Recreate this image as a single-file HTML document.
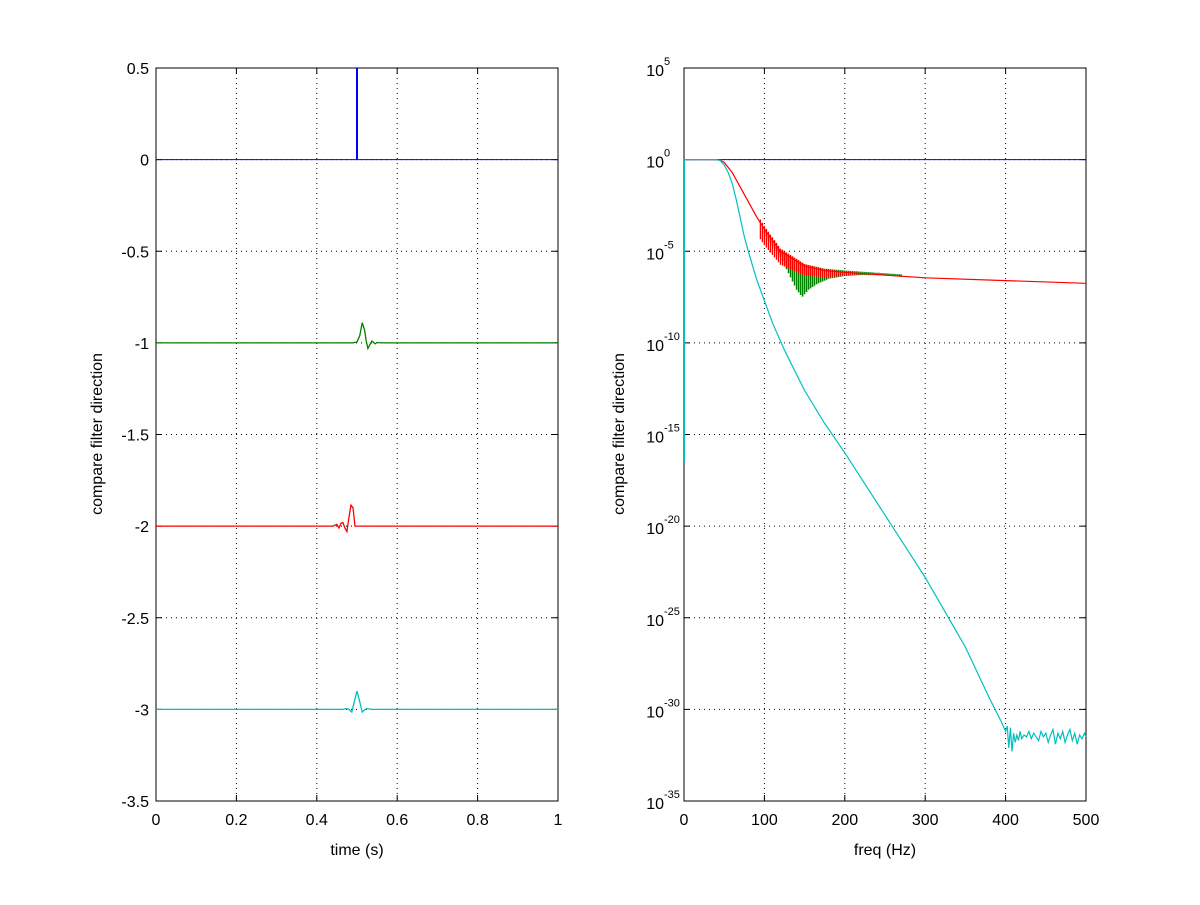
<!DOCTYPE html>
<html><head><meta charset="utf-8"><style>
body{margin:0;background:#fff}
svg text{font-family:"Liberation Sans",sans-serif;font-size:16px;fill:#000}
</style></head><body>
<svg id="c" width="1200" height="900" xmlns="http://www.w3.org/2000/svg"></svg>
<script>
// Left panel data
const lxTicks=[0,0.2,0.4,0.6,0.8,1];
const lxLabels=["0","0.2","0.4","0.6","0.8","1"];
const lyTicks=[0.5,0,-0.5,-1,-1.5,-2,-2.5,-3,-3.5];
const lyLabels=["0.5","0","-0.5","-1","-1.5","-2","-2.5","-3","-3.5"];
const greenT=[0,0.49,0.5,0.507,0.513,0.519,0.523,0.527,0.532,0.537,0.545,0.55,0.56,1];
const greenV=[-1,-1,-0.995,-0.96,-0.89,-0.93,-0.99,-1.03,-1.01,-0.99,-1.005,-0.998,-1,-1];
const redT=[0,0.44,0.45,0.455,0.46,0.465,0.47,0.475,0.48,0.485,0.49,0.495,0.5,1];
const redV=[-2,-2,-1.99,-2.01,-1.985,-1.98,-2.01,-2.03,-1.95,-1.885,-1.9,-2,-2,-2];
const cyanT=[0,0.465,0.475,0.48,0.487,0.493,0.5,0.507,0.513,0.52,0.525,0.535,1];
const cyanV=[-3,-3,-2.995,-3,-3.015,-2.96,-2.9,-2.96,-3.015,-3,-2.995,-3,-3];
// Right panel data
const rxTicks=[0,100,200,300,400,500];
const rxLabels=["0","100","200","300","400","500"];
const ryTicks=[5,0,-5,-10,-15,-20,-25,-30,-35];
const redF=[0,40,45,50,60,75,90,100,120,150,175,200,250,300,400,500];
const redL=[0,0,-0.03,-0.15,-0.7,-1.9,-3.1,-3.8,-5.0,-5.8,-6.05,-6.15,-6.3,-6.45,-6.6,-6.75];
const greenF=[100,110,120,130,140,147,155,165,180,200,220,240,260,270];
const greenDip=[-4.0,-4.7,-5.3,-6.2,-7.1,-7.5,-7.1,-6.8,-6.5,-6.35,-6.3,-6.3,-6.35,-6.4];
const cyanF=[0,40,45,50,55,60,65,70,75,80,90,100,110,125,150,175,200,250,300,350,380,395,400];
const cyanL=[0,0,-0.05,-0.3,-0.7,-1.3,-2.2,-3.2,-4.2,-5.0,-6.5,-7.7,-8.9,-10.4,-12.6,-14.4,-16.0,-19.4,-22.8,-26.6,-29.4,-30.7,-31.2];
const noiseF=[402,404,406,408,410,412,414,416,418,420,423,426,429,432,435,438,441,444,447,450,453,456,459,462,465,468,471,474,477,480,483,486,489,492,495,498,500];
const noiseL=[-30.9,-32.1,-31.0,-32.3,-31.3,-31.8,-31.4,-31.7,-31.2,-31.6,-31.4,-31.5,-31.2,-31.6,-31.3,-31.5,-31.7,-31.2,-31.5,-31.3,-31.8,-31.4,-31.1,-31.9,-31.3,-31.6,-31.2,-31.8,-31.4,-31.1,-31.7,-31.3,-31.9,-31.4,-31.6,-31.3,-31.5];

const svg=document.getElementById('c');
const NS="http://www.w3.org/2000/svg";
function mk(tag,attrs,parent){const e=document.createElementNS(NS,tag);for(const k in attrs)e.setAttribute(k,attrs[k]);(parent||svg).appendChild(e);return e;}
function interp(xs,ys,x){for(let i=1;i<xs.length;i++){if(x<=xs[i]){const t=(x-xs[i-1])/(xs[i]-xs[i-1]);return ys[i-1]+t*(ys[i]-ys[i-1]);}}return ys[ys.length-1];}

const L={x0:156,x1:558,y0:68,y1:801};
const lx=v=>L.x0+v*(L.x1-L.x0);
const ly=v=>L.y0+(0.5-v)/4*(L.y1-L.y0);
const rx=v=>684+v/500*(1086-684);
const ry=e=>68+(5-e)/40*(801-68);

function axes(name,X0,X1,xTicks,xLab,xf,yTicks,yLab,yf,xTitle,cx){
  const g=mk('g',{});
  
  
  xTicks.forEach((t,i)=>{const x=xf(t);
    if(i>0&&i<xTicks.length-1)mk('line',{x1:x,x2:x,y1:68,y2:801,stroke:'#000','stroke-dasharray':'1 4','stroke-width':1},g);
    mk('line',{x1:x,x2:x,y1:801,y2:795,stroke:'#000'},g);mk('line',{x1:x,x2:x,y1:68,y2:74,stroke:'#000'},g);
    const tx=mk('text',{x:x,y:825,'text-anchor':'middle'},g);tx.textContent=xLab[i];
    });
  yTicks.forEach((t,i)=>{const y=yf(t);
    if(i>0&&i<yTicks.length-1)mk('line',{x1:X0,x2:X1,y1:y,y2:y,stroke:'#000','stroke-dasharray':'1 4'},g);
    mk('line',{x1:X0,x2:X0+6,y1:y,y2:y,stroke:'#000'},g);mk('line',{x1:X1,x2:X1-6,y1:y,y2:y,stroke:'#000'},g);
    let tx;
    if(yLab){tx=mk('text',{x:X0-7,y:y+6,'text-anchor':'end'},g);tx.textContent=yLab[i];}
    else{tx=mk('text',{x:X0-20,y:y+8,'text-anchor':'end'},g);tx.textContent='10';
      const s=mk('text',{x:X0-20,y:y-3},g);s.setAttribute('style','font-size:11px');s.textContent=String(t);}
    });
  mk('rect',{x:X0,y:68,width:X1-X0,height:733,fill:'none',stroke:'#000'},g);
  const xt=mk('text',{x:(X0+X1)/2,y:855,'text-anchor':'middle'},g);xt.textContent=xTitle;
  
  const yt=mk('text',{x:cx,y:434,'text-anchor':'middle',transform:`rotate(-90 ${cx} 434)`},g);yt.textContent='compare filter direction';
  
}
axes('left-axes',156,558,lxTicks,lxLabels,lx,lyTicks,lyLabels,ly,'time (s)',102);
axes('right-axes',684,1086,rxTicks,rxLabels,rx,ryTicks,null,ry,'freq (Hz)',624);

function poly(xs,ys,fx,fy,col,name,w){const p=xs.map((x,i)=>fx(x).toFixed(1)+','+fy(ys[i]).toFixed(1)).join(' ');
  const e=mk('polyline',{points:p,fill:'none',stroke:col,'stroke-width':w||1});
  return e;}
// left series
poly([0,1],[0,0],lx,ly,'#0000ff','impulse-baseline',1);
poly([0.5,0.5],[0,0.5],lx,ly,'#0000ff','impulse-spike',2);
poly(greenT,greenV,lx,ly,'#008000','green-series',1.3);
poly(redT,redV,lx,ly,'#ff0000','red-series',1.3);
poly(cyanT,cyanV,lx,ly,'#00bfbf','cyan-series',1.3);
// right series
poly([0,500],[0,0],rx,ry,'#0000ff','flat-response');
poly([0,0],[0,-16.5],rx,ry,'#00bfbf','dc-line',2);
// green oscillations
(function(){let d='';for(let f=100;f<=270;f+=2.5){const dip=interp(greenF,greenDip,f);const base=interp(redF,redL,f);
  d+=`M${rx(f).toFixed(1)},${ry(base+0.1).toFixed(1)}V${ry(dip).toFixed(1)}`;}
  const e=mk('path',{d:d,stroke:'#008000','stroke-width':1.5,fill:'none'});
  })();
(function(){let d='';for(let f=95;f<=230;f+=2.5){const base=interp(redF,redL,f);const amp=Math.max(0,0.9*(1-(f-95)/135));
  d+=`M${rx(f).toFixed(1)},${ry(base+amp*0.2).toFixed(1)}V${ry(base-amp).toFixed(1)}`;}
  const e=mk('path',{d:d,stroke:'#ff0000','stroke-width':1.3,fill:'none'});
  })();
poly(redF,redL,rx,ry,'#ff0000','red-response',1.2);
poly(cyanF.concat(noiseF),cyanL.concat(noiseL),rx,ry,'#00bfbf','cyan-response',1.2);
</script>
</body></html>
